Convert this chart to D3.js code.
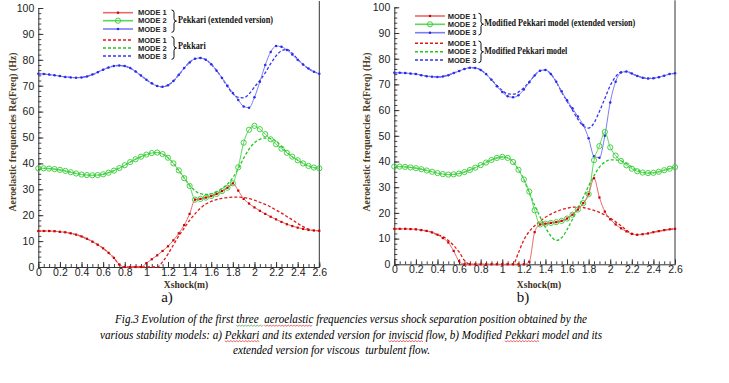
<!DOCTYPE html>
<html>
<head>
<meta charset="utf-8">
<script src="https://cdn.jsdelivr.net/npm/d3@7"></script>
<style>
  body { margin: 0; background: #fff; }
  svg { display: block; }
</style>
</head>
<body>
<svg id="svg1" width="729" height="383"></svg>
<script>
// shock position grid (m), one value every 0.05 from 0 to 2.6
var xshock = d3.range(53).map(function(i){ return +(i * 0.05).toFixed(2); });

// ---- panel a) Pekkari / Pekkari extended ----
var aMode1 = [13.9,13.9,13.9,13.8,13.6,13.4,13.0,12.5,11.8,10.9,
              9.8,8.6,7.2,5.5,3.5,1.0,0,0,0,0,
              1.5,3.0,4.5,6.2,8.0,10.3,13.0,16.2,20.5,26.0,
              26.3,26.8,27.4,28.2,29.3,30.6,32.3,29.5,26.3,24.5,
              23.0,21.7,20.5,19.4,18.4,17.4,16.5,15.8,15.2,14.7,
              14.3,14.1,14.0];
var aMode1Dash = [13.9,13.9,13.9,13.8,13.6,13.4,13.0,12.5,11.8,10.9,
              9.8,8.6,7.2,5.5,3.5,0.8,0,0,0,0,
              0,0,0,2.0,5.0,8.5,12.0,15.0,18.0,20.5,
              22.7,24.3,25.3,26.0,26.5,26.8,27.0,27.0,26.8,26.4,
              25.8,25.0,24.2,23.2,22.0,20.8,19.5,18.2,16.8,15.6,
              14.6,14.1,14.0];
var aMode2 = [38.1,38.1,38.0,37.8,37.5,37.1,36.6,36.1,35.7,35.5,
              35.4,35.5,35.8,36.4,37.2,38.2,39.3,40.5,41.6,42.6,
              43.4,44.0,44.2,43.6,42.2,40.0,37.3,34.3,31.3,26.0,
              26.3,26.8,27.4,28.2,29.3,30.6,32.3,38.5,48.0,53.0,
              54.5,53.2,51.3,49.3,47.4,45.7,44.1,42.6,41.2,40.0,
              39.0,38.4,38.1];
var aMode2Dash = [38.1,38.1,38.0,37.8,37.5,37.1,36.6,36.1,35.7,35.5,
              35.4,35.5,35.8,36.4,37.2,38.2,39.3,40.5,41.6,42.6,
              43.4,44.0,44.2,43.6,42.2,40.0,37.3,34.3,31.5,29.5,
              28.3,28.0,28.3,29.0,30.3,32.0,34.5,38.0,42.0,45.5,
              48.0,49.3,49.8,49.6,48.6,46.5,44.3,42.6,41.2,40.0,
              39.0,38.4,38.1];
var aMode3 = [74.6,74.5,74.3,74.0,73.7,73.4,73.2,73.1,73.2,73.6,
              74.3,75.2,76.2,77.0,77.6,77.8,77.6,76.8,75.5,73.9,
              72.3,70.9,69.9,69.6,70.2,71.8,74.2,76.8,79.0,80.4,
              80.7,80.0,78.3,75.8,73.0,70.0,67.2,64.5,62.0,61.5,
              65.5,71.5,78.0,83.0,85.3,85.0,83.8,82.0,80.0,78.2,
              76.6,75.4,74.6];
var aMode3Dash = [74.6,74.5,74.3,74.0,73.7,73.4,73.2,73.1,73.2,73.6,
              74.3,75.2,76.2,77.0,77.6,77.8,77.6,76.8,75.5,73.9,
              72.3,70.9,69.9,69.6,70.2,71.8,74.2,76.8,79.0,80.4,
              80.7,80.0,78.3,75.8,73.0,69.6,67.0,65.5,65.3,66.8,
              69.5,72.0,75.0,78.5,81.5,83.5,84.0,82.5,80.2,78.2,
              76.6,75.4,74.6];

// ---- panel b) Modified Pekkari / Modified Pekkari extended ----
var bMode1 = [13.8,13.8,13.8,13.7,13.6,13.3,13.0,12.4,11.5,10.2,
              8.5,5.2,1.2,0,0,0,0,0,0,0,
              0,0,0,0,0,1.0,12.5,15.5,15.8,16.1,
              16.4,16.9,17.8,19.3,21.3,23.8,27.3,33.5,26.0,20.5,
              17.5,15.5,14.0,12.8,11.8,11.5,11.7,12.0,12.5,12.9,
              13.3,13.6,13.8];
var bMode1Dash = [13.8,13.8,13.8,13.7,13.6,13.3,13.0,12.4,11.5,10.8,
              9.3,7.3,4.8,1.5,0,0,0,0,0,0,
              0,0,0,4.5,9.5,12.8,15.0,16.8,18.3,19.5,
              20.5,21.3,21.8,22.2,22.3,22.1,21.6,21.0,20.2,19.2,
              18.0,16.5,15.0,13.3,12.0,11.5,11.7,12.0,12.5,12.9,
              13.3,13.6,13.8];
var bMode2 = [38.0,38.0,37.9,37.7,37.4,37.0,36.5,36.0,35.5,35.1,
              34.9,35.0,35.3,35.9,36.7,37.6,38.6,39.6,40.6,41.4,
              41.8,41.4,39.8,36.8,33.0,28.3,21.0,15.5,15.8,16.1,
              16.4,16.9,17.8,19.3,21.3,23.8,27.3,40.5,46.0,51.5,
              45.5,42.3,40.2,38.5,37.2,36.2,35.7,35.5,35.6,36.0,
              36.6,37.2,37.8];
var bMode2Dash = [38.0,38.0,37.9,37.7,37.4,37.0,36.5,36.0,35.5,35.1,
              34.9,35.0,35.3,35.9,36.7,37.6,38.6,39.6,40.6,41.4,
              41.8,41.4,39.8,36.8,33.0,27.8,23.0,18.5,14.3,11.0,
              9.3,10.3,13.5,17.5,21.8,26.0,30.5,34.5,37.8,39.8,
              40.6,40.6,40.2,39.2,37.8,36.6,35.8,35.5,35.6,36.0,
              36.6,37.2,37.8];
var bMode3 = [74.5,74.5,74.4,74.2,74.0,73.6,73.2,73.0,72.9,73.1,
              73.6,74.4,75.2,76.0,76.5,76.4,75.6,74.0,71.8,69.3,
              67.0,65.4,65.0,65.8,68.0,70.8,73.5,75.3,75.6,74.0,
              71.0,67.3,63.8,60.7,57.5,54.2,49.0,42.0,41.5,50.0,
              63.0,71.0,74.6,75.0,74.2,73.3,72.6,72.3,72.4,72.8,
              73.4,74.0,74.3];
var bMode3Dash = [74.5,74.5,74.4,74.2,74.0,73.6,73.2,73.0,72.9,73.1,
              73.6,74.4,75.2,76.0,76.5,76.4,75.6,74.0,71.8,69.6,
              67.6,66.3,66.2,67.0,68.7,71.0,73.5,75.3,75.6,74.0,
              71.0,67.0,63.5,60.0,56.5,53.8,53.0,55.0,59.5,64.5,
              69.5,73.0,74.8,75.0,74.2,73.3,72.6,72.3,72.4,72.8,
              73.4,74.0,74.3];

var xTicks = [0,0.2,0.4,0.6,0.8,1,1.2,1.4,1.6,1.8,2,2.2,2.4,2.6];
var yTicks = [0,10,20,30,40,50,60,70,80,90,100];
var modeNames = ['MODE 1','MODE 2','MODE 3'];

var lineCol = ['#e86a6a','#5ad85a','#7c7cf2'];
var markCol = ['#cc0000','#33cc33','#2a2aee'];
var dashCol = ['#e01818','#1fc81f','#3434f4'];

var svg = d3.select('#svg1');

var panels = [
  {left: 38.3, right: 319.3, top: 8, bottom: 267,
   solid: [aMode1, aMode2, aMode3], dashed: [aMode1Dash, aMode2Dash, aMode3Dash],
   yTitleX: 16, xTitleX: 186, tag: 'a)', tagX: 167,
   leg: {lx: 103, tx: 138, rows1: [12.7, 20.7, 29], rows2: [40, 48, 56],
         bx: 171.5, b1: [10, 32.3], b2: [36.7, 59.3],
         gx: 178, g1y: 23.3, g2y: 49.3,
         g1: 'Pekkari (extended version)', g1w: 95, g2: 'Pekkari', g2w: 27.7}},
  {left: 394.3, right: 675, top: 7.3, bottom: 264.3,
   solid: [bMode1, bMode2, bMode3], dashed: [bMode1Dash, bMode2Dash, bMode3Dash],
   yTitleX: 370, xTitleX: 539, tag: 'b)', tagX: 523,
   leg: {lx: 415, tx: 447.7, rows1: [16, 24.3, 32.7], rows2: [43.3, 51.7, 60],
         bx: 478.5, b1: [13.3, 35], b2: [41, 62.7],
         gx: 484.3, g1y: 26.3, g2y: 54,
         g1: 'Modified Pekkari model (extended version)', g1w: 151,
         g2: 'Modified Pekkari model', g2w: 83}}
];

function brace(x, y1, y2) {
  var m = (y1 + y2) / 2;
  return 'M' + x + ',' + y1 + ' q2.5,0 2.5,2.5 V' + (m - 2.5) +
         ' q0,2.5 2.5,2.5 q-2.5,0 -2.5,2.5 V' + (y2 - 2.5) + ' q0,2.5 -2.5,2.5';
}

function drawMarker(sel, mode, cx, cy) {
  if (mode === 0) {
    sel.append('rect').attr('x', cx - 1.1).attr('y', cy - 1.1)
      .attr('width', 2.2).attr('height', 2.2).attr('fill', markCol[0]);
  } else if (mode === 1) {
    sel.append('circle').attr('cx', cx).attr('cy', cy).attr('r', 2.6)
      .attr('fill', 'none').attr('stroke', markCol[1]).attr('stroke-width', 0.9);
  } else {
    sel.append('circle').attr('cx', cx).attr('cy', cy).attr('r', 1.25)
      .attr('fill', markCol[2]);
  }
}

panels.forEach(function(p) {
  var x = d3.scaleLinear().domain([0, 2.6]).range([p.left, p.right]);
  var y = d3.scaleLinear().domain([0, 100]).range([p.bottom, p.top]);
  var g = svg.append('g');

  // minor ticks
  g.append('g').attr('transform', 'translate(0,' + p.bottom + ')')
    .call(d3.axisBottom(x).tickValues(d3.range(53).map(function(i){ return i * 0.05; }))
      .tickSizeInner(-3).tickSizeOuter(0).tickFormat(''))
    .call(function(s){ s.select('.domain').remove(); s.selectAll('line').attr('stroke', '#444'); });
  g.append('g').attr('transform', 'translate(' + p.left + ',0)')
    .call(d3.axisLeft(y).tickValues(d3.range(51).map(function(i){ return i * 2; }))
      .tickSizeInner(-3).tickSizeOuter(0).tickFormat(''))
    .call(function(s){ s.select('.domain').remove(); s.selectAll('line').attr('stroke', '#444'); });

  // major axes
  var xa = g.append('g').attr('transform', 'translate(0,' + p.bottom + ')')
    .call(d3.axisBottom(x).tickValues(xTicks).tickSizeInner(-5).tickSizeOuter(0)
      .tickPadding(1.5).tickFormat(d3.format('~g')));
  var ya = g.append('g').attr('transform', 'translate(' + p.left + ',0)')
    .call(d3.axisLeft(y).tickValues(yTicks).tickSizeInner(-5).tickSizeOuter(0)
      .tickPadding(4));
  [xa, ya].forEach(function(a) {
    a.select('.domain').attr('stroke', '#333');
    a.selectAll('line').attr('stroke', '#333');
    a.selectAll('text').attr('fill', '#222')
      .style('font-family', 'Liberation Sans, Arial, sans-serif').style('font-size', '10.5px');
  });
  g.append('line').attr('x1', p.right).attr('x2', p.right)
    .attr('y1', p.top - 7).attr('y2', p.bottom).attr('stroke', '#333');

  // dashed (original models)
  [2, 1, 0].forEach(function(m) {
    var line = d3.line().x(function(d, i){ return x(xshock[i]); })
      .y(function(d){ return y(d); }).curve(d3.curveMonotoneX);
    g.append('path').attr('d', line(p.dashed[m])).attr('fill', 'none')
      .attr('stroke', dashCol[m]).attr('stroke-width', 1.3).attr('stroke-dasharray', '3,2');
  });

  // solid (extended versions) with markers
  [2, 1, 0].forEach(function(m) {
    var line = d3.line().x(function(d, i){ return x(xshock[i]); })
      .y(function(d){ return y(d); }).curve(d3.curveMonotoneX);
    g.append('path').attr('d', line(p.solid[m])).attr('fill', 'none')
      .attr('stroke', lineCol[m]).attr('stroke-width', 1);
    var mg = g.append('g');
    p.solid[m].forEach(function(v, i) { drawMarker(mg, m, x(xshock[i]), y(v)); });
  });

  // titles
  g.append('text').attr('transform', 'translate(' + p.yTitleX + ',132) rotate(-90)')
    .attr('text-anchor', 'middle').attr('fill', '#4a3c1c')
    .attr('textLength', 159).attr('lengthAdjust', 'spacingAndGlyphs')
    .style('font-family', 'Liberation Serif, Times New Roman, serif')
    .style('font-weight', 'bold').style('font-size', '10.5px')
    .text('Aeroelastic frequencies Re(Freq) (Hz)');
  g.append('text').attr('x', p.xTitleX).attr('y', 287.5).attr('text-anchor', 'middle')
    .attr('fill', '#3a3020')
    .style('font-family', 'Liberation Serif, Times New Roman, serif')
    .style('font-weight', 'bold').style('font-size', '9.5px').text('Xshock(m)');
  g.append('text').attr('x', p.tagX).attr('y', 302).attr('text-anchor', 'middle')
    .attr('fill', '#111')
    .style('font-family', 'Liberation Serif, Times New Roman, serif')
    .style('font-size', '15px').text(p.tag);

  // legend
  var L = p.leg;
  var lg = g.append('g');
  L.rows1.forEach(function(ry, m) {
    lg.append('line').attr('x1', L.lx).attr('x2', L.lx + 30).attr('y1', ry).attr('y2', ry)
      .attr('stroke', lineCol[m]).attr('stroke-width', 1.6);
    drawMarker(lg, m, L.lx + 15, ry);
  });
  L.rows2.forEach(function(ry, m) {
    lg.append('line').attr('x1', L.lx).attr('x2', L.lx + 30).attr('y1', ry).attr('y2', ry)
      .attr('stroke', dashCol[m]).attr('stroke-width', 1.4).attr('stroke-dasharray', '3,2');
  });
  L.rows1.concat(L.rows2).forEach(function(ry, k) {
    lg.append('text').attr('x', L.tx).attr('y', ry + 2.6).attr('fill', '#222')
      .style('font-family', 'Liberation Sans, Arial, sans-serif')
      .style('font-weight', 'bold').style('font-size', '7.5px').text(modeNames[k % 3]);
  });
  [L.b1, L.b2].forEach(function(b) {
    lg.append('path').attr('d', brace(L.bx, b[0], b[1])).attr('fill', 'none')
      .attr('stroke', '#111').attr('stroke-width', 1);
  });
  [[L.g1, L.g1y, L.g1w], [L.g2, L.g2y, L.g2w]].forEach(function(t) {
    lg.append('text').attr('x', L.gx).attr('y', t[1]).attr('fill', '#111')
      .attr('textLength', t[2]).attr('lengthAdjust', 'spacingAndGlyphs')
      .style('font-family', 'Liberation Serif, Times New Roman, serif')
      .style('font-weight', 'bold').style('font-size', '9.5px').text(t[0]);
  });
});

// caption
var captionLines = [
  {t: 'Fig.3 Evolution of the first three  aeroelastic frequencies versus shock separation position obtained by the',
   x: 115, y: 323, w: 472, marks: [['three  ', '#3a9a3a'], ['aeroelastic', '#e02020']]},
  {t: 'various stability models: a) Pekkari and its extended version for inviscid flow, b) Modified Pekkari model and its',
   x: 100, y: 338.5, w: 502, marks: [['Pekkari', '#e02020'], ['inviscid', '#e02020'], ['Pekkari', '#e02020', 1]]},
  {t: 'extended version for viscous  turbulent flow.',
   x: 233, y: 354, w: 197, marks: []}
];
captionLines.forEach(function(c) {
  var t = svg.append('text').attr('x', c.x).attr('y', c.y).attr('fill', '#000')
    .attr('textLength', c.w).attr('lengthAdjust', 'spacingAndGlyphs')
    .style('white-space', 'pre')
    .style('font-family', 'Liberation Serif, Times New Roman, serif')
    .style('font-style', 'italic').style('font-size', '12.5px').text(c.t);
  var node = t.node();
  c.marks.forEach(function(mk) {
    var idx = c.t.indexOf(mk[0]);
    if (mk[2]) idx = c.t.indexOf(mk[0], idx + 1);
    if (idx < 0) return;
    var x0 = node.getStartPositionOfChar(idx).x;
    var x1 = node.getEndPositionOfChar(idx + mk[0].length - 1).x;
    var yy = c.y + 2.2, pts = [], k = 0;
    for (var xx = x0; xx <= x1; xx += 1.5, k++) pts.push([xx, yy + (k % 2 ? 1 : 0)]);
    svg.append('path').attr('d', d3.line()(pts)).attr('fill', 'none')
      .attr('stroke', mk[1]).attr('stroke-width', 0.7);
  });
});
</script>
</body>
</html>
